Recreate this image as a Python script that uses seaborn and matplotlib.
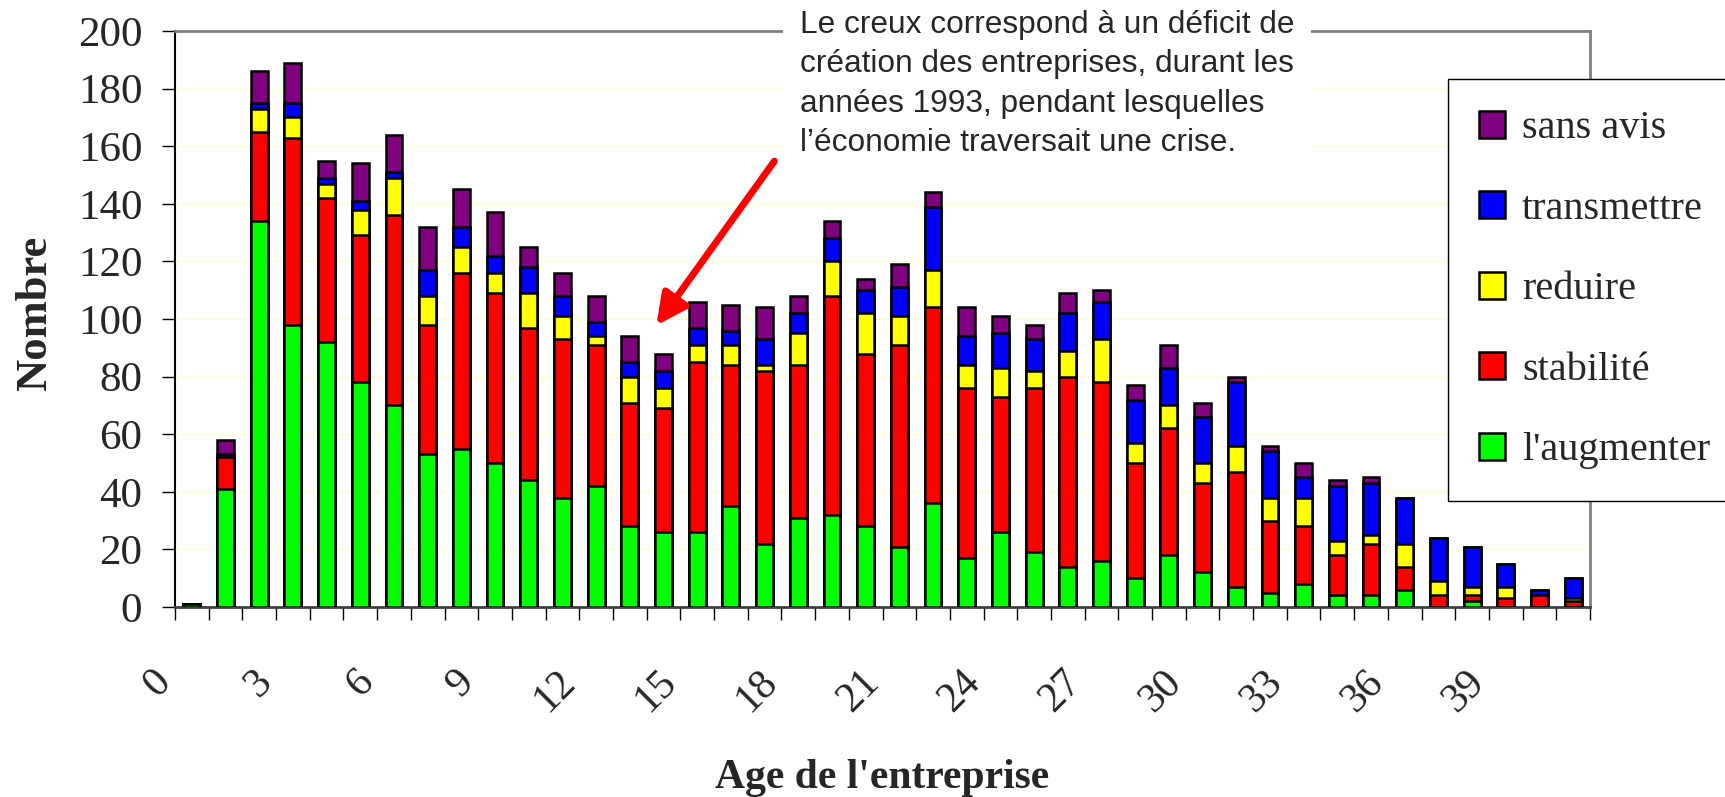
import numpy as np
import pandas as pd
import matplotlib
matplotlib.use("Agg")
import matplotlib.pyplot as plt
import matplotlib.transforms as mtransforms
from matplotlib.patches import Patch
import seaborn as sns

# Data (counts per age of the firm)
ages = list(range(42))
augmenter = [1, 41, 134, 98, 92, 78, 70, 53, 55, 50, 44, 38, 42, 28, 26, 26, 35, 22, 31, 32, 28,
             21, 36, 17, 26, 19, 14, 16, 10, 18, 12, 7, 5, 8, 4, 4, 6, 0, 2, 0, 0, 0]
stabilite = [0, 11, 31, 65, 50, 51, 66, 45, 61, 59, 53, 55, 49, 43, 43, 59, 49, 60, 53, 76, 60,
             70, 68, 59, 47, 57, 66, 62, 40, 44, 31, 40, 25, 20, 14, 18, 8, 4, 2, 3, 4, 2]
reduire = [0, 0, 8, 7, 5, 9, 13, 10, 9, 7, 12, 8, 3, 9, 7, 6, 7, 2, 11, 12, 14,
           10, 13, 8, 10, 6, 9, 15, 7, 8, 7, 9, 8, 10, 5, 3, 8, 5, 3, 4, 0, 1]
transmettre = [0, 1, 2, 5, 2, 3, 2, 9, 7, 6, 9, 7, 5, 5, 6, 6, 5, 9, 7, 8, 8,
               10, 22, 10, 12, 11, 13, 13, 15, 13, 16, 22, 16, 7, 19, 18, 16, 15, 14, 8, 2, 7]
sans_avis = [0, 5, 11, 14, 6, 13, 13, 15, 13, 15, 7, 8, 9, 9, 6, 9, 9, 11, 6, 6, 4,
             8, 5, 10, 6, 5, 7, 4, 5, 8, 5, 2, 2, 5, 2, 2, 0, 0, 0, 0, 0, 0]

series_names = ["l'augmenter", "stabilité", "reduire", "transmettre", "sans avis"]
series_colors = ["#00FF00", "#FF0000", "#FFFF00", "#0000FF", "#800080"]
xtick_labels = [str(a) for a in range(0, 42, 3)]

df = pd.DataFrame({"Age": ages, "l'augmenter": augmenter, "stabilité": stabilite,
                   "reduire": reduire, "transmettre": transmettre, "sans avis": sans_avis})
cum = df[series_names].cumsum(axis=1)

sns.set_theme(style="white")
plt.rcParams["font.family"] = ["Liberation Serif", "DejaVu Serif"]

fig = plt.figure(figsize=(17.25, 7.97), dpi=100)
ax = fig.add_axes([175 / 1725, 1 - 607 / 797, 1415 / 1725, 576 / 797])

# stacked bars: draw cumulative totals from the top layer down
for name, color in zip(series_names[::-1], series_colors[::-1]):
    sns.barplot(x=df["Age"], y=cum[name], color=color, width=0.5,
                edgecolor="black", linewidth=1.8, saturation=1, ax=ax, zorder=3)

ax.set_ylim(0, 200)
ax.set_xlim(-0.5, 41.5)
ax.set_yticks(range(0, 201, 20))
ax.yaxis.grid(True, color="#ffffcc", lw=1)
ax.set_axisbelow(True)

ax.set_xticks(range(0, 42, 3))
ax.set_xticklabels(xtick_labels, rotation=45, ha="right", va="center", rotation_mode="anchor")
ax.set_xticks(np.arange(-0.5, 42, 1), minor=True)
ax.tick_params(axis="x", which="major", length=0, pad=50, labelsize=30)
ax.tick_params(axis="x", which="minor", length=9.5, width=1, color="black", direction="out", bottom=True)
ax.tick_params(axis="y", length=9.5, width=1, color="black", direction="out", pad=14, labelsize=31, left=True)
shift = mtransforms.ScaledTranslation(-26.5 / 100, 0, fig.dpi_scale_trans)
for lab in ax.get_xticklabels():
    lab.set_transform(lab.get_transform() + shift)

for side in ["top", "right"]:
    ax.spines[side].set_color("#808080")
    ax.spines[side].set_linewidth(2)
ax.spines["left"].set_color("black")
ax.spines["left"].set_linewidth(1.5)
ax.spines["bottom"].set_color("#404040")
ax.spines["bottom"].set_linewidth(2)

ax.set_xlabel("Age de l'entreprise", fontsize=30, fontweight="bold")
ax.xaxis.set_label_coords(0.5, -0.314)
ax.xaxis.label.set_va("baseline")
ax.set_ylabel("Nombre", fontsize=32, fontweight="bold")
ax.yaxis.set_label_coords(-0.099, 0.51)
ax.yaxis.label.set_va("center")

# comment and arrow
fig.text(800 / 1725, 1 - 10 / 797,
         "Le creux correspond à un déficit de\ncréation des entreprises, durant les\n"
         "années 1993, pendant lesquelles\nl’économie traversait une crise.",
         family="Liberation Sans", fontsize=22.8, ha="left", va="top", linespacing=1.41,
         bbox=dict(facecolor="white", edgecolor="none", pad=12))
ax.annotate("", xy=(13.74, 97), xytext=(17.34, 155.6),
            arrowprops=dict(arrowstyle="-|>", color="#FF0000", lw=5, mutation_scale=46),
            zorder=5)

handles = [Patch(facecolor=c, edgecolor="black", linewidth=1.8)
           for c in series_colors[::-1]]
fig.legend(handles, series_names[::-1], loc="upper left",
           bbox_to_anchor=(1448 / 1725, 1 - 79 / 797), fontsize=29, frameon=True,
           fancybox=False, edgecolor="black", framealpha=1, borderpad=0.78,
           handlelength=0.64, handleheight=0.64, handletextpad=0.42, labelspacing=1.08,
           borderaxespad=0)

fig.savefig("out.png", dpi=100)
